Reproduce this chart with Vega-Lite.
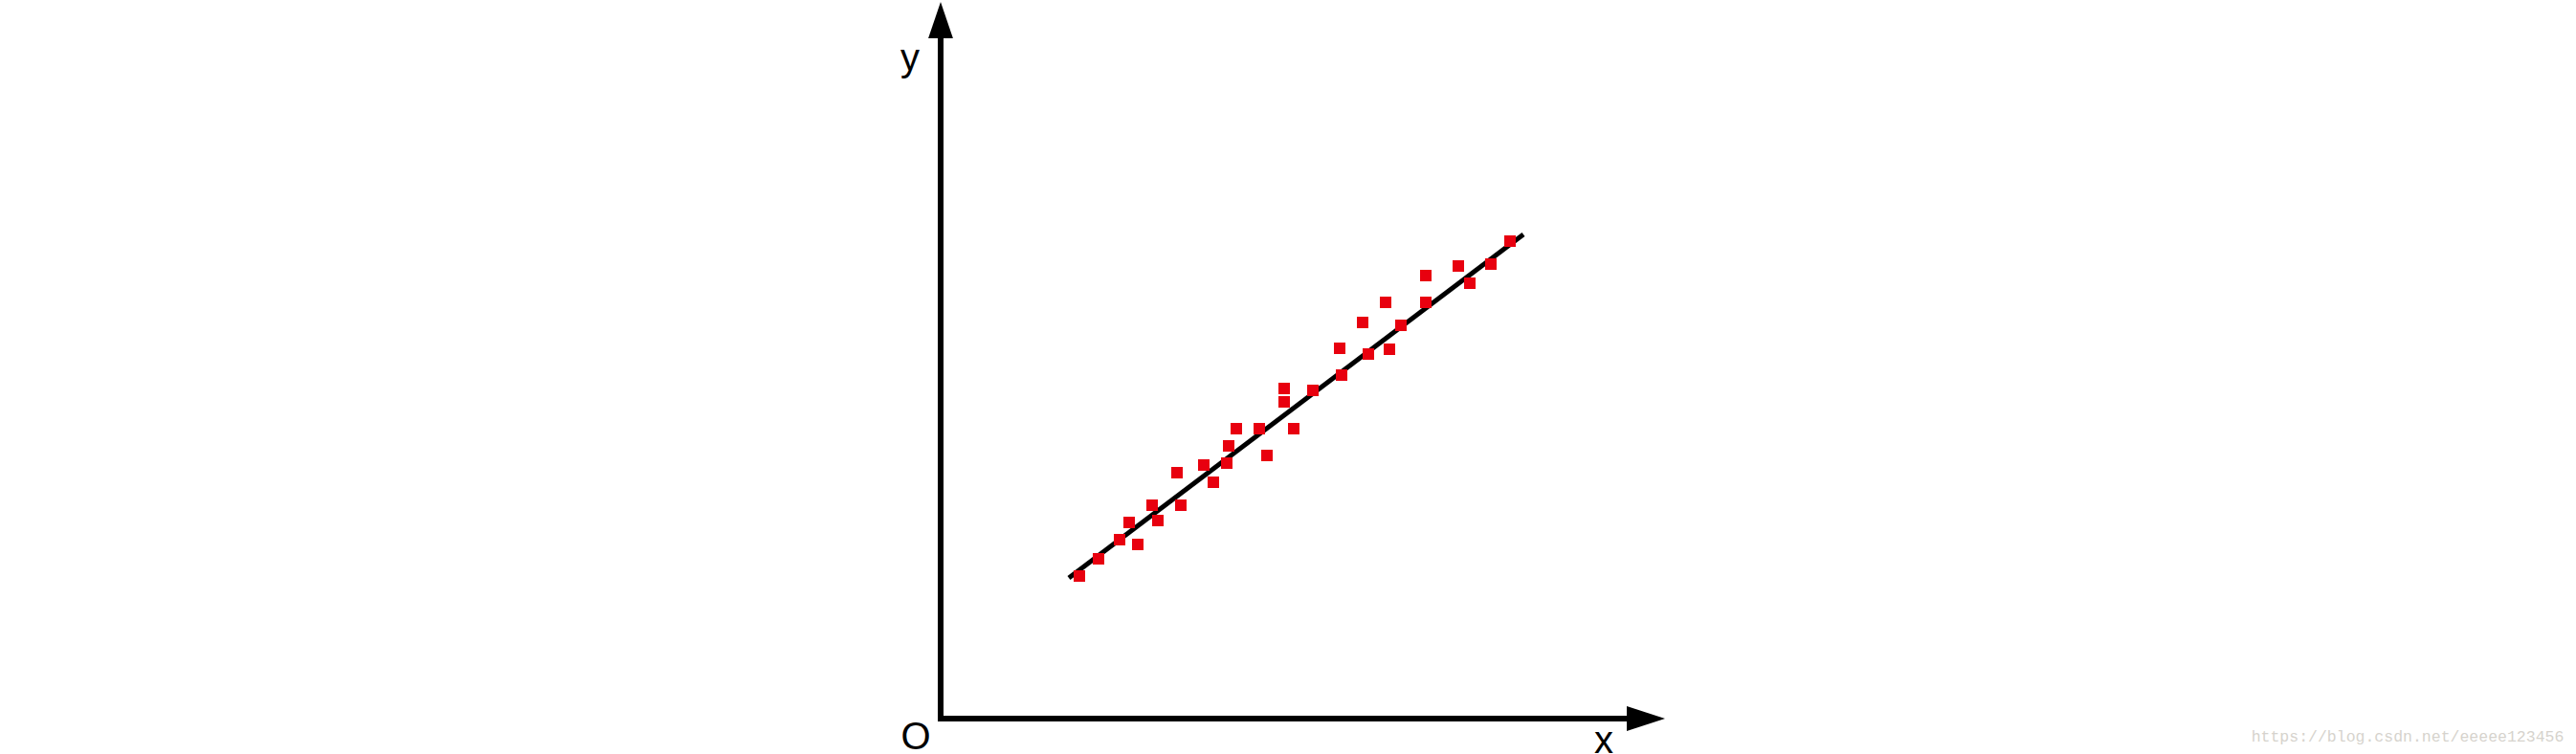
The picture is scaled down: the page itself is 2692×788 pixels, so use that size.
{
  "$schema": "https://vega.github.io/schema/vega-lite/v6.json",
  "width": 2692,
  "height": 788,
  "autosize": "none",
  "padding": 0,
  "background": "white",
  "config": {"view": {"stroke": null}},
  "datasets": {
    "points": [
      {"x": 14.5, "y": 14.9}, {"x": 16.5, "y": 16.7}, {"x": 18.7, "y": 18.7}, {"x": 20.6, "y": 18.2},
      {"x": 19.7, "y": 20.5}, {"x": 22.1, "y": 22.3}, {"x": 22.7, "y": 20.7}, {"x": 24.7, "y": 25.7},
      {"x": 25.1, "y": 22.3}, {"x": 27.5, "y": 26.5}, {"x": 28.5, "y": 24.7}, {"x": 29.9, "y": 26.7},
      {"x": 30.1, "y": 28.5}, {"x": 30.9, "y": 30.3}, {"x": 33.3, "y": 30.3}, {"x": 34.1, "y": 27.5},
      {"x": 35.9, "y": 34.5}, {"x": 35.9, "y": 33.1}, {"x": 36.9, "y": 30.3}, {"x": 38.9, "y": 34.3},
      {"x": 41.7, "y": 38.7}, {"x": 41.9, "y": 35.9}, {"x": 44.1, "y": 41.4}, {"x": 44.7, "y": 38.1},
      {"x": 46.5, "y": 43.5}, {"x": 46.9, "y": 38.6}, {"x": 48.1, "y": 41.1}, {"x": 50.7, "y": 46.3},
      {"x": 50.7, "y": 43.5}, {"x": 54.1, "y": 47.3}, {"x": 55.3, "y": 45.5}, {"x": 57.5, "y": 47.5},
      {"x": 59.5, "y": 49.9}
    ],
    "fit": [{"x": 13.4, "y": 14.7}, {"x": 60.9, "y": 50.6}],
    "axes": [
      {"axis": "y", "x": 0, "x2": 0, "y": -0.3, "y2": 71.1},
      {"axis": "x", "x": -0.3, "x2": 71.7, "y": 0, "y2": 0}
    ],
    "arrows": [
      {"dir": "up", "x": 0, "y": 73.0},
      {"dir": "right", "x": 73.7, "y": 0}
    ],
    "labels": [
      {"label": "y", "x": -3.2, "y": 67.7},
      {"label": "O", "x": -2.6, "y": -3.2},
      {"label": "x", "x": 69.3, "y": -3.6}
    ],
    "mark": [{"label": "https://blog.csdn.net/eeeee123456", "x": 153.3, "y": -2.4}]
  },
  "layer": [
    {
      "data": {"name": "axes"},
      "mark": {"type": "rule", "color": "black", "strokeWidth": 6, "strokeCap": "butt"},
      "encoding": {
        "x": {"field": "x", "type": "quantitative", "scale": {"domain": [-98.3, 170.9], "nice": false, "zero": false}, "axis": null},
        "x2": {"field": "x2"},
        "y": {"field": "y", "type": "quantitative", "scale": {"domain": [-3.7, 75.1], "nice": false, "zero": false}, "axis": null},
        "y2": {"field": "y2"}
      }
    },
    {
      "data": {"name": "arrows"},
      "transform": [{"filter": "datum.dir === 'up'"}],
      "mark": {"type": "point", "filled": true, "color": "black", "opacity": 1, "strokeWidth": 0, "shape": "M-0.68,1L0,-1L0.68,1Z", "size": 1444},
      "encoding": {
        "x": {"field": "x", "type": "quantitative", "scale": {"domain": [-98.3, 170.9], "nice": false, "zero": false}, "axis": null},
        "y": {"field": "y", "type": "quantitative", "scale": {"domain": [-3.7, 75.1], "nice": false, "zero": false}, "axis": null}
      }
    },
    {
      "data": {"name": "arrows"},
      "transform": [{"filter": "datum.dir === 'right'"}],
      "mark": {"type": "point", "filled": true, "color": "black", "opacity": 1, "strokeWidth": 0, "shape": "M-1,-0.65L1,0L-1,0.65Z", "size": 1600},
      "encoding": {
        "x": {"field": "x", "type": "quantitative", "scale": {"domain": [-98.3, 170.9], "nice": false, "zero": false}, "axis": null},
        "y": {"field": "y", "type": "quantitative", "scale": {"domain": [-3.7, 75.1], "nice": false, "zero": false}, "axis": null}
      }
    },
    {
      "data": {"name": "fit"},
      "mark": {"type": "line", "color": "black", "strokeWidth": 5},
      "encoding": {
        "x": {"field": "x", "type": "quantitative", "scale": {"domain": [-98.3, 170.9], "nice": false, "zero": false}, "axis": null},
        "y": {"field": "y", "type": "quantitative", "scale": {"domain": [-3.7, 75.1], "nice": false, "zero": false}, "axis": null}
      }
    },
    {
      "data": {"name": "points"},
      "mark": {"type": "square", "filled": true, "color": "#e8000f", "opacity": 1, "size": 144},
      "encoding": {
        "x": {"field": "x", "type": "quantitative", "scale": {"domain": [-98.3, 170.9], "nice": false, "zero": false}, "axis": null},
        "y": {"field": "y", "type": "quantitative", "scale": {"domain": [-3.7, 75.1], "nice": false, "zero": false}, "axis": null}
      }
    },
    {
      "data": {"name": "labels"},
      "mark": {"type": "text", "font": "Liberation Sans", "fontSize": 40, "color": "black", "align": "center", "baseline": "alphabetic"},
      "encoding": {
        "x": {"field": "x", "type": "quantitative", "scale": {"domain": [-98.3, 170.9], "nice": false, "zero": false}, "axis": null},
        "y": {"field": "y", "type": "quantitative", "scale": {"domain": [-3.7, 75.1], "nice": false, "zero": false}, "axis": null},
        "text": {"field": "label"}
      }
    },
    {
      "data": {"name": "mark"},
      "mark": {"type": "text", "font": "Liberation Mono", "fontSize": 16.5, "color": "#d6d3cd", "align": "center", "baseline": "alphabetic"},
      "encoding": {
        "x": {"field": "x", "type": "quantitative", "scale": {"domain": [-98.3, 170.9], "nice": false, "zero": false}, "axis": null},
        "y": {"field": "y", "type": "quantitative", "scale": {"domain": [-3.7, 75.1], "nice": false, "zero": false}, "axis": null},
        "text": {"field": "label"}
      }
    }
  ]
}
